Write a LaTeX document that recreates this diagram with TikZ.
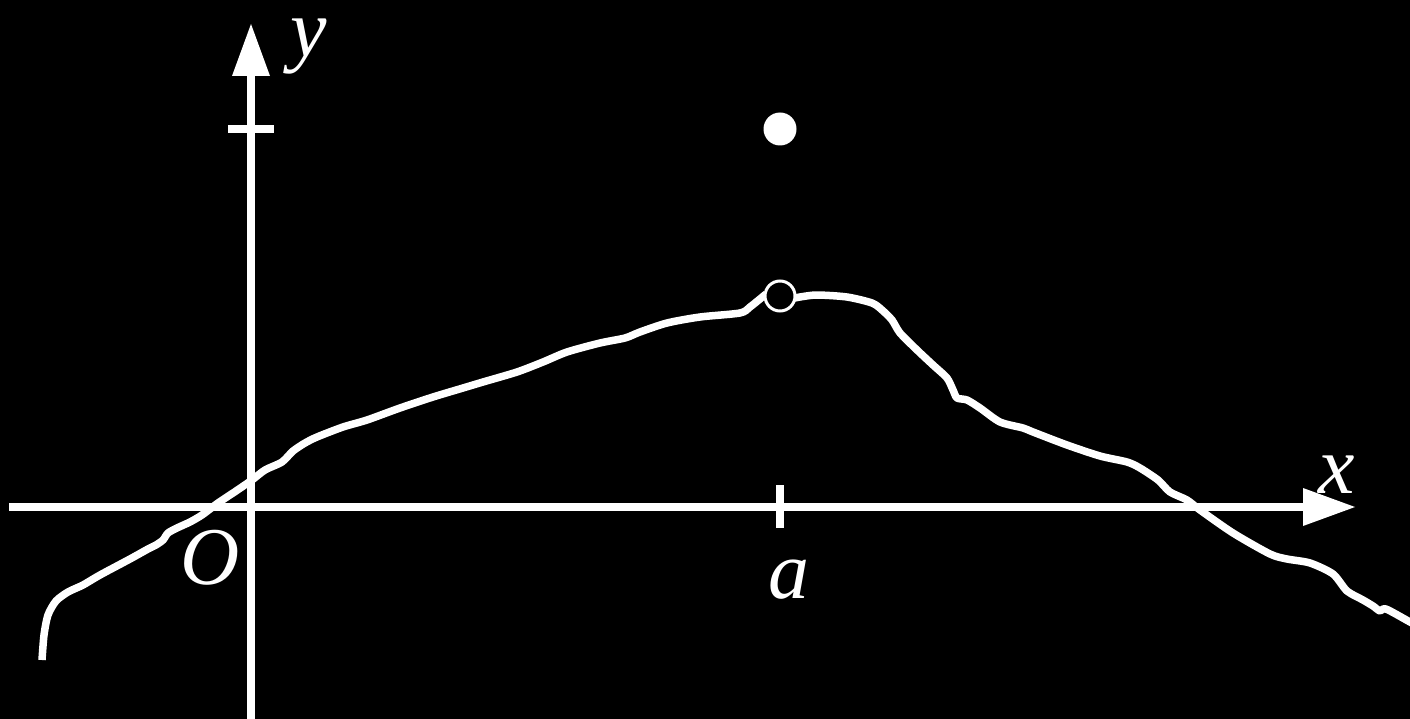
\documentclass[tikz,border=0pt]{standalone}
\usepackage{fontspec}
\setmainfont{Liberation Serif}
\begin{document}
\begin{tikzpicture}[x=1pt,y=-1pt,
  axis/.style={white,line width=7.5pt},
  head/.style={white,fill=white,draw=none},
  curve/.style={white,line width=7.5pt,line join=round,line cap=butt},
  lbl/.style={text=white,inner sep=0pt,anchor=base,font=\fontsize{82}{90}\selectfont\itshape}]
\fill[black] (0,0) rectangle (1410,719);
\useasboundingbox (0,0) rectangle (1410,719);
\clip (0,0) rectangle (1410,719);
% axes
\coordinate (xs) at (9,507);
\coordinate (xb) at (1303,507);
\coordinate (xt) at (1355,507);
\coordinate (ys) at (251,725);
\coordinate (yb) at (251,76);
\coordinate (yt) at (251,24);
\draw[axis] (xs) -- (xb);
\draw[axis] (ys) -- (yb);
\fill[head] (xt) -- (1303,488) -- (1303,526) -- cycle;
\fill[head] (yt) -- (232,76) -- (270,76) -- cycle;
% ticks
\coordinate (t1a) at (228,129);
\coordinate (t1b) at (274,129);
\coordinate (t2a) at (780,485);
\coordinate (t2b) at (780,528);
\draw[axis] (t1a) -- (t1b);
\draw[axis] (t2a) -- (t2b);
% curve
\draw[curve] plot[smooth,tension=0.45] coordinates {
(42,660) (44,635) (48,615) (56,601) (68,592) (83,585) (100,575) (130,559) (148,549) (156,545) (163,540) (168,533) (177,528) (190,522) (202,515) (218,503) (236,491) (252,480) (265,470) (282,462) (293,451) (305,443) (317,437) (343,427) (367,420) (400,408) (433,397) (463,388) (483,382) (517,372) (543,362) (567,352) (600,343) (625,338) (640,332) (667,323) (700,317) (740,313) (750,307) (766,294)};
\draw[curve] plot[smooth,tension=0.45] coordinates {
(790,299) (800,297) (817,295) (847,297) (872,303) (882,310) (892,320) (900,333) (917,350) (933,365) (947,378) (953,390) (957,398) (967,400) (980,408) (1000,422) (1023,428) (1033,432) (1067,445) (1100,456) (1127,462) (1140,468) (1158,480) (1170,492) (1187,500) (1200,510) (1233,533) (1270,554) (1287,559) (1310,563) (1333,574) (1347,591) (1363,600) (1373,606) (1380,611) (1386,609) (1410,622) (1425,630)};
% points
\node[circle,fill=white,draw=none,minimum size=33pt,inner sep=0pt] (full) at (780,129) {};
\node[circle,fill=black,draw=white,line width=3pt,minimum size=30pt,inner sep=0pt] (hole) at (780,296) {};
% labels
\node[lbl] (ly) at (309,57) {y};
\node[lbl] (lx) at (1337,493) {x};
\node[lbl] (lo) at (210,584) {O};
\node[lbl] (la) at (789,598) {a};
\end{tikzpicture}
\end{document}
